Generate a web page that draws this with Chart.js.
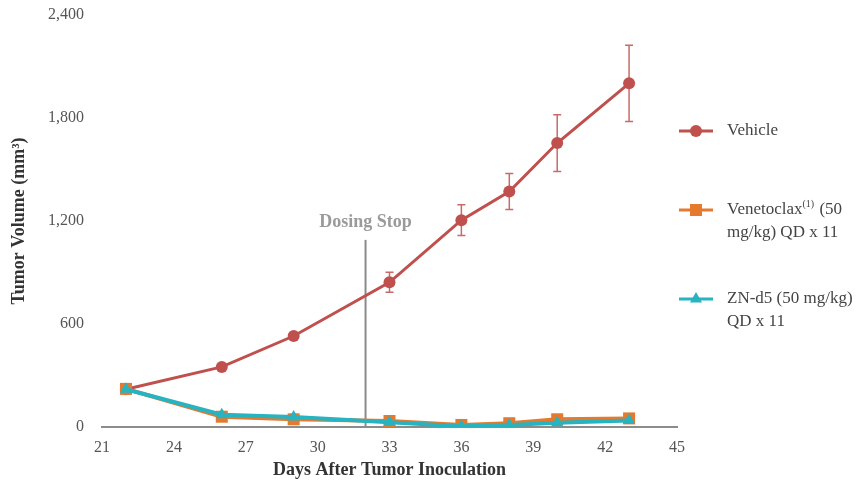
<!DOCTYPE html>
<html>
<head>
<meta charset="utf-8">
<script src="https://cdn.jsdelivr.net/npm/chart.js@4.4.1/dist/chart.umd.min.js"></script>
<style>
  html, body { margin: 0; padding: 0; background: #fff; }
</style>
</head>
<body>
<canvas id="tumorChart" width="858" height="491"></canvas>
<script>
// data
const days = [22, 26, 29, 33, 36, 38, 40, 43];
const vehicle = [220, 350, 530, 843, 1205, 1372, 1654, 2002];
const vehicleErr = [0, 0, 12, 58, 90, 105, 165, 222];
const venetoclax = [222, 60, 45, 35, 12, 22, 45, 50];
const znd5 = [220, 72, 58, 28, 4, 12, 25, 38];
const xTicks = [21, 24, 27, 30, 33, 36, 39, 42, 45];
const yTicks = [0, 600, 1200, 1800, 2400];
const dosingStop = [{ x: 32, y: 0 }, { x: 32, y: 1090 }];
const dosingLabel = 'Dosing Stop';
const seriesNames = ['Vehicle', 'Venetoclax(1) (50 mg/kg) QD x 11', 'ZN-d5 (50 mg/kg) QD x 11'];
// legend text broken into lines, ^(..) is superscript
const legendLines = [
  ['Vehicle'],
  ['Venetoclax^(1) (50', 'mg/kg) QD x 11'],
  ['ZN-d5 (50 mg/kg)', 'QD x 11']
];

const SERIF = '"Liberation Serif", "Times New Roman", serif';
const RED = '#c0504d';
const ORANGE = '#e57a2f';
const TEAL = '#27b3c0';

function pts(ys) {
  return days.map((d, i) => ({ x: d, y: ys[i] }));
}

// error bars for the vehicle series
const errorBars = {
  id: 'errorBars',
  beforeDatasetsDraw(chart) {
    const ctx = chart.ctx;
    const xs = chart.scales.x, ys = chart.scales.y;
    ctx.save();
    ctx.strokeStyle = '#c96a68';
    ctx.lineWidth = 1.5;
    days.forEach((d, i) => {
      const e = vehicleErr[i];
      if (!e) return;
      const px = xs.getPixelForValue(d);
      const top = ys.getPixelForValue(vehicle[i] + e);
      const bot = ys.getPixelForValue(vehicle[i] - e);
      ctx.beginPath();
      ctx.moveTo(px, top); ctx.lineTo(px, bot);
      ctx.moveTo(px - 4, top); ctx.lineTo(px + 4, top);
      ctx.moveTo(px - 4, bot); ctx.lineTo(px + 4, bot);
      ctx.stroke();
    });
    ctx.restore();
  }
};

// "Dosing Stop" text and the legend on the right
const extras = {
  id: 'extras',
  afterDraw(chart) {
    const ctx = chart.ctx;
    const xs = chart.scales.x, ys = chart.scales.y;
    ctx.save();
    ctx.fillStyle = '#9a9a9a';
    ctx.font = 'bold 18px ' + SERIF;
    ctx.textAlign = 'center';
    ctx.textBaseline = 'middle';
    ctx.fillText(dosingLabel, xs.getPixelForValue(dosingStop[0].x), ys.getPixelForValue(1195));

    const rows = [131, 210, 299];
    ctx.textAlign = 'left';
    for (let i = 0; i < 3; i++) {
      const ds = chart.data.datasets[i];
      const y = rows[i];
      ctx.strokeStyle = ds.borderColor;
      ctx.lineWidth = 3;
      ctx.beginPath();
      ctx.moveTo(679, y); ctx.lineTo(713, y);
      ctx.stroke();
      ctx.fillStyle = ds.borderColor;
      Chart.helpers.drawPoint(ctx, { pointStyle: ds.pointStyle, radius: ds.pointRadius, borderWidth: 0 }, 696, y);
      ctx.fillStyle = '#444';
      legendLines[i].forEach((line, j) => {
        drawRich(ctx, line, 727, y + j * 23);
      });
    }
    ctx.restore();
  }
};

function drawRich(ctx, text, x, y) {
  const parts = text.split(/(\^\([^)]*\))/);
  let cx = x;
  parts.forEach(p => {
    if (!p) return;
    if (p.startsWith('^')) {
      ctx.font = '10px ' + SERIF;
      const s = p.slice(1);
      ctx.fillText(s, cx, y - 6);
      cx += ctx.measureText(s).width + 1;
    } else {
      ctx.font = '17px ' + SERIF;
      ctx.fillText(p, cx, y);
      cx += ctx.measureText(p).width;
    }
  });
}

new Chart(document.getElementById('tumorChart'), {
  type: 'line',
  data: {
    datasets: [
      {
        label: seriesNames[0], data: pts(vehicle),
        borderColor: RED, backgroundColor: RED, borderWidth: 3,
        pointStyle: 'circle', pointRadius: 6, pointBorderWidth: 0, order: 2
      },
      {
        label: seriesNames[1], data: pts(venetoclax),
        borderColor: ORANGE, backgroundColor: ORANGE, borderWidth: 4,
        pointStyle: 'rect', pointRadius: 8.5, pointBorderWidth: 0, order: 1
      },
      {
        label: seriesNames[2], data: pts(znd5),
        borderColor: TEAL, backgroundColor: TEAL, borderWidth: 4,
        pointStyle: 'triangle', pointRadius: 7, pointBorderWidth: 0, order: 0
      },
      {
        label: dosingLabel, data: dosingStop,
        borderColor: '#8a8a8a', borderWidth: 2, pointRadius: 0, order: 5
      }
    ]
  },
  options: {
    responsive: false,
    animation: false,
    layout: { padding: { left: 0, right: 181, top: 15, bottom: 0 } },
    plugins: {
      legend: { display: false },
      tooltip: { enabled: false }
    },
    scales: {
      x: {
        type: 'linear', min: 21, max: 45,
        afterBuildTicks: s => { s.ticks = xTicks.map(v => ({ value: v })); },
        afterFit: s => { s.height = 64; s.paddingLeft = 0; s.paddingRight = 0; },
        grid: { display: false, drawTicks: false },
        border: { display: true, color: '#8c8c8c', width: 2 },
        ticks: { padding: 11, color: '#555', font: { family: SERIF, size: 16 } },
        title: {
          display: true, text: 'Days After Tumor Inoculation', color: '#333',
          font: { family: SERIF, size: 18, weight: 'bold' }, padding: { top: 0, bottom: 10 }
        }
      },
      y: {
        min: 0, max: 2400,
        afterBuildTicks: s => { s.ticks = yTicks.map(v => ({ value: v })); },
        afterFit: s => { s.width = 102; s.paddingTop = 0; s.paddingBottom = 0; },
        grid: { display: false, drawTicks: false },
        border: { display: false },
        ticks: {
          padding: 18, color: '#555', font: { family: SERIF, size: 16 },
          callback: v => v.toLocaleString('en-US')
        },
        title: {
          display: true, text: 'Tumor Volume (mm³)', color: '#333',
          font: { family: SERIF, size: 18, weight: 'bold' }, padding: { top: 9, bottom: 0 }
        }
      }
    }
  },
  plugins: [errorBars, extras]
});
</script>
</body>
</html>
